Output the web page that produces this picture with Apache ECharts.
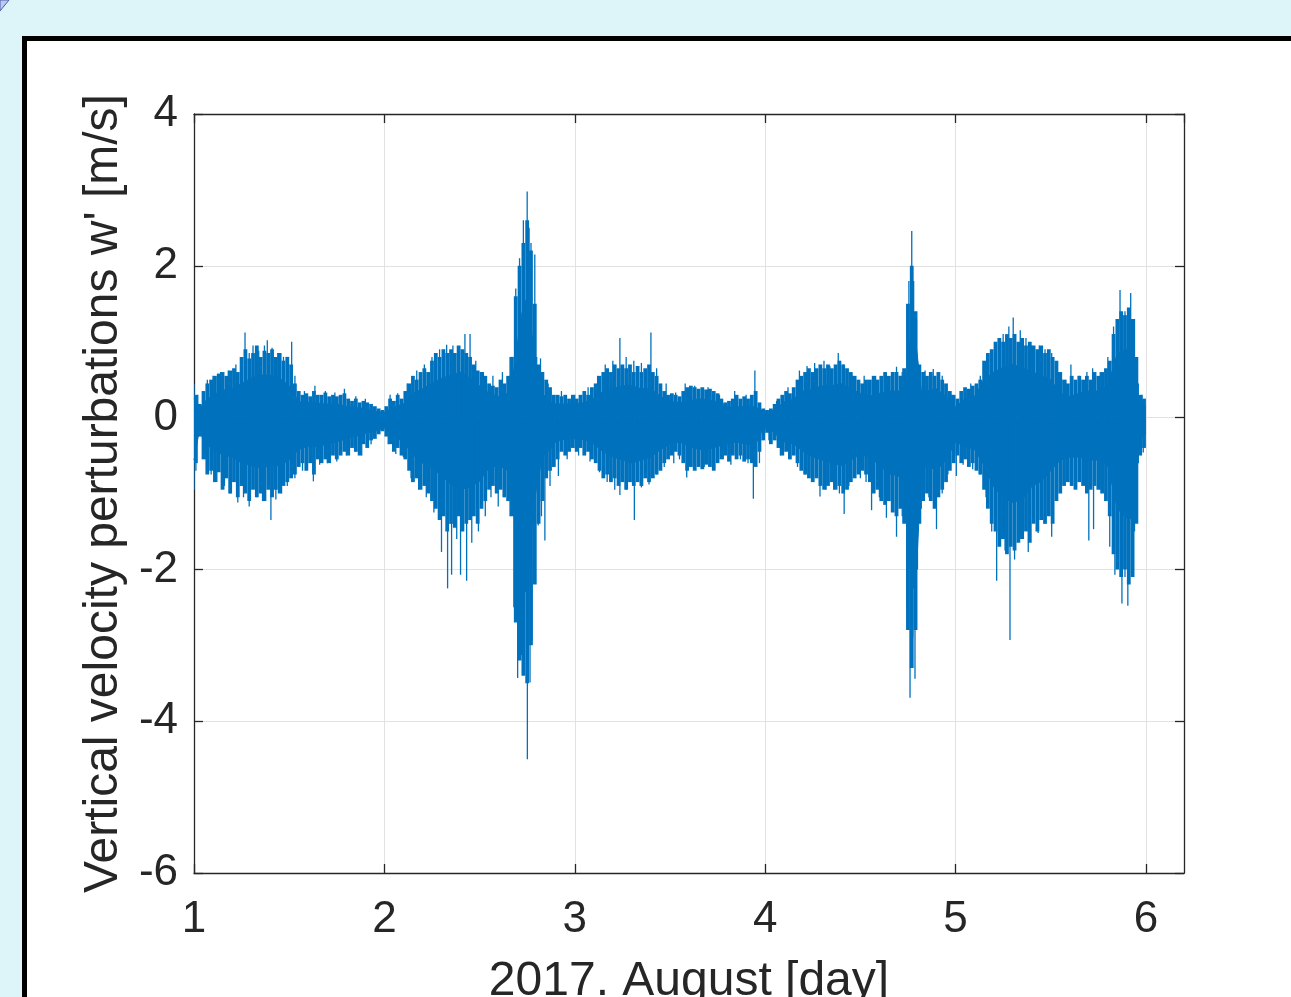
<!DOCTYPE html>
<html>
<head>
<meta charset="utf-8">
<script src="https://cdn.jsdelivr.net/npm/echarts@6/dist/echarts.min.js"></script>
<style>
html, body { margin: 0; padding: 0; width: 1291px; height: 997px; overflow: hidden; background: #ddf4f9; }
#frame { position: absolute; left: 22px; top: 36px; width: 1400px; height: 1100px; background: #fff; border: 5px solid #000; }
#chart { position: absolute; left: 0; top: 0; width: 1291px; height: 997px; }
</style>
</head>
<body>
<div id="frame"></div>
<div id="chart"></div>
<script>
// solid core of the signal (upper / lower)
var dayPts = [1.00, 1.03, 1.05, 1.10, 1.15, 1.20, 1.25, 1.30, 1.35, 1.40, 1.45, 1.50, 1.55, 1.60, 1.65, 1.70, 1.75, 1.80, 1.85, 1.90, 1.95, 2.00,
  2.05, 2.10, 2.15, 2.20, 2.25, 2.30, 2.35, 2.40, 2.45, 2.50, 2.55, 2.60, 2.65, 2.68, 2.70, 2.72, 2.74, 2.76, 2.78, 2.80, 2.83, 2.87, 2.90, 2.95, 3.00,
  3.05, 3.10, 3.15, 3.20, 3.25, 3.30, 3.35, 3.40, 3.45, 3.50, 3.55, 3.60, 3.65, 3.70, 3.75, 3.80, 3.85, 3.90, 3.95, 3.99,
  4.02, 4.05, 4.10, 4.15, 4.20, 4.25, 4.30, 4.35, 4.40, 4.45, 4.50, 4.55, 4.60, 4.65, 4.70, 4.74, 4.76, 4.78, 4.80, 4.82, 4.85, 4.90, 4.95, 5.00,
  5.05, 5.10, 5.15, 5.20, 5.25, 5.30, 5.35, 5.40, 5.45, 5.50, 5.55, 5.60, 5.65, 5.70, 5.75, 5.80, 5.85, 5.90, 5.93, 5.95, 5.97, 6.00];
var coreUpper = [0.25, 0.1, 0.2, 0.3, 0.36, 0.38, 0.45, 0.52, 0.56, 0.56, 0.52, 0.42, 0.21, 0.2, 0.19, 0.18, 0.18, 0.15, 0.13, 0.12, 0.08, 0.07,
  0.14, 0.18, 0.32, 0.38, 0.45, 0.52, 0.56, 0.6, 0.52, 0.42, 0.32, 0.28, 0.32, 0.63, 1.0, 1.35, 1.55, 1.4, 1.0, 0.5, 0.32, 0.21, 0.18, 0.18, 0.18,
  0.2, 0.25, 0.35, 0.38, 0.42, 0.42, 0.38, 0.38, 0.28, 0.21, 0.2, 0.22, 0.25, 0.23, 0.21, 0.14, 0.14, 0.15, 0.14, 0.08,
  0.07, 0.1, 0.21, 0.25, 0.35, 0.38, 0.42, 0.42, 0.45, 0.38, 0.32, 0.28, 0.32, 0.35, 0.35, 0.42, 1.0, 1.25, 0.8, 0.35, 0.35, 0.38, 0.28, 0.14,
  0.25, 0.28, 0.5, 0.6, 0.66, 0.7, 0.66, 0.6, 0.56, 0.5, 0.32, 0.28, 0.32, 0.35, 0.35, 0.42, 0.85, 0.9, 0.85, 0.35, 0.18, 0.14];
var coreLower = [-0.56, -0.14, -0.32, -0.42, -0.49, -0.52, -0.6, -0.63, -0.66, -0.64, -0.63, -0.56, -0.42, -0.38, -0.38, -0.35, -0.32, -0.28, -0.25, -0.21, -0.18, -0.14,
  -0.25, -0.32, -0.49, -0.6, -0.66, -0.77, -0.88, -0.95, -0.91, -0.84, -0.66, -0.63, -0.7, -1.26, -1.7, -2.1, -2.3, -1.95, -1.26, -0.91, -0.52, -0.42, -0.32, -0.28, -0.28,
  -0.29, -0.35, -0.45, -0.52, -0.56, -0.6, -0.56, -0.52, -0.42, -0.35, -0.32, -0.38, -0.42, -0.42, -0.38, -0.35, -0.32, -0.35, -0.35, -0.14,
  -0.14, -0.21, -0.32, -0.35, -0.45, -0.52, -0.56, -0.6, -0.63, -0.56, -0.49, -0.52, -0.63, -0.74, -0.77, -0.91, -1.95, -2.25, -1.75, -0.7, -0.63, -0.7, -0.56, -0.32,
  -0.38, -0.42, -0.63, -0.91, -1.05, -1.12, -1.08, -0.91, -0.84, -0.7, -0.56, -0.52, -0.52, -0.56, -0.56, -0.63, -1.2, -1.33, -1.33, -0.7, -0.28, -0.21];

// the hairy fringe: one high/low pair every 0.02 day
var hairDays = [1.01, 1.03, 1.05, 1.07, 1.09, 1.11, 1.13, 1.15, 1.17, 1.19, 1.21, 1.23, 1.25, 1.27, 1.29, 1.31, 1.33, 1.35, 1.37, 1.39, 1.41, 1.43, 1.45, 1.47, 1.49,
  1.51, 1.53, 1.55, 1.57, 1.59, 1.61, 1.63, 1.65, 1.67, 1.69, 1.71, 1.73, 1.75, 1.77, 1.79, 1.81, 1.83, 1.85, 1.87, 1.89, 1.91, 1.93, 1.95, 1.97, 1.99,
  2.01, 2.03, 2.05, 2.07, 2.09, 2.11, 2.13, 2.15, 2.17, 2.19, 2.21, 2.23, 2.25, 2.27, 2.29, 2.31, 2.33, 2.35, 2.37, 2.39, 2.41, 2.43, 2.45, 2.47, 2.49,
  2.51, 2.53, 2.55, 2.57, 2.59, 2.61, 2.63, 2.65, 2.67, 2.69, 2.71, 2.73, 2.75, 2.77, 2.79, 2.81, 2.83, 2.85, 2.87, 2.89, 2.91, 2.93, 2.95, 2.97, 2.99,
  3.01, 3.03, 3.05, 3.07, 3.09, 3.11, 3.13, 3.15, 3.17, 3.19, 3.21, 3.23, 3.25, 3.27, 3.29, 3.31, 3.33, 3.35, 3.37, 3.39, 3.41, 3.43, 3.45, 3.47, 3.49,
  3.51, 3.53, 3.55, 3.57, 3.59, 3.61, 3.63, 3.65, 3.67, 3.69, 3.71, 3.73, 3.75, 3.77, 3.79, 3.81, 3.83, 3.85, 3.87, 3.89, 3.91, 3.93, 3.95, 3.97, 3.99,
  4.01, 4.03, 4.05, 4.07, 4.09, 4.11, 4.13, 4.15, 4.17, 4.19, 4.21, 4.23, 4.25, 4.27, 4.29, 4.31, 4.33, 4.35, 4.37, 4.39, 4.41, 4.43, 4.45, 4.47, 4.49,
  4.51, 4.53, 4.55, 4.57, 4.59, 4.61, 4.63, 4.65, 4.67, 4.69, 4.71, 4.73, 4.75, 4.77, 4.79, 4.81, 4.83, 4.85, 4.87, 4.89, 4.91, 4.93, 4.95, 4.97, 4.99,
  5.01, 5.03, 5.05, 5.07, 5.09, 5.11, 5.13, 5.15, 5.17, 5.19, 5.21, 5.23, 5.25, 5.27, 5.29, 5.31, 5.33, 5.35, 5.37, 5.39, 5.41, 5.43, 5.45, 5.47, 5.49,
  5.51, 5.53, 5.55, 5.57, 5.59, 5.61, 5.63, 5.65, 5.67, 5.69, 5.71, 5.73, 5.75, 5.77, 5.79, 5.81, 5.83, 5.85, 5.87, 5.89, 5.91, 5.93, 5.95, 5.97, 5.99];
var hairTop = [0.3, 0.18, 0.35, 0.45, 0.5, 0.55, 0.58, 0.6, 0.55, 0.62, 0.65, 0.6, 0.8, 0.9, 0.78, 0.85, 0.95, 0.8, 0.88, 0.85, 0.9, 0.8, 0.85, 0.75, 0.8,
  0.7, 0.45, 0.35, 0.3, 0.32, 0.28, 0.35, 0.3, 0.3, 0.33, 0.28, 0.3, 0.28, 0.3, 0.32, 0.25, 0.22, 0.25, 0.2, 0.22, 0.2, 0.18, 0.15, 0.12, 0.1,
  0.15, 0.25, 0.22, 0.3, 0.25, 0.35, 0.45, 0.55, 0.5, 0.6, 0.65, 0.6, 0.75, 0.85, 0.8, 0.9, 0.85, 0.9, 0.85, 0.95, 0.9, 0.85, 0.8, 0.7, 0.62,
  0.6, 0.55, 0.45, 0.42, 0.4, 0.5, 0.45, 0.55, 0.8, 1.6, 2.0, 2.3, 2.6, 2.2, 1.5, 0.7, 0.6, 0.5, 0.4, 0.3, 0.3, 0.28, 0.3, 0.25, 0.3,
  0.25, 0.3, 0.35, 0.3, 0.4, 0.45, 0.55, 0.6, 0.65, 0.6, 0.7, 0.65, 0.7, 0.65, 0.7, 0.6, 0.68, 0.6, 0.65, 0.7, 0.6, 0.55, 0.45, 0.35, 0.3,
  0.32, 0.3, 0.28, 0.35, 0.4, 0.42, 0.4, 0.38, 0.4, 0.37, 0.38, 0.35, 0.32, 0.25, 0.2, 0.22, 0.25, 0.3, 0.25, 0.28, 0.25, 0.3, 0.35, 0.2, 0.12,
  0.1, 0.12, 0.18, 0.25, 0.3, 0.35, 0.32, 0.4, 0.5, 0.55, 0.6, 0.65, 0.6, 0.65, 0.7, 0.65, 0.7, 0.65, 0.7, 0.75, 0.7, 0.65, 0.6, 0.55, 0.5,
  0.45, 0.5, 0.5, 0.55, 0.5, 0.55, 0.6, 0.55, 0.6, 0.6, 0.55, 0.65, 1.5, 2.0, 1.4, 0.7, 0.6, 0.55, 0.6, 0.55, 0.6, 0.5, 0.45, 0.35, 0.3,
  0.25, 0.35, 0.4, 0.38, 0.42, 0.45, 0.5, 0.75, 0.85, 0.9, 1.0, 1.05, 1.0, 1.1, 1.05, 1.1, 1.0, 1.05, 0.95, 1.0, 0.95, 0.9, 0.95, 0.85, 0.9,
  0.8, 0.75, 0.6, 0.5, 0.45, 0.55, 0.5, 0.55, 0.5, 0.55, 0.5, 0.6, 0.55, 0.6, 0.65, 0.75, 1.1, 1.3, 1.4, 1.35, 1.45, 1.3, 0.8, 0.3, 0.25];
var hairBottom = [-0.6, -0.25, -0.55, -0.75, -0.7, -0.85, -0.72, -0.95, -0.8, -1.0, -0.85, -1.05, -0.9, -1.0, -1.1, -0.95, -1.05, -1.0, -1.1, -0.95, -1.05, -0.95, -1.0, -0.9, -0.85,
  -0.8, -0.75, -0.65, -0.6, -0.7, -0.6, -0.75, -0.55, -0.6, -0.55, -0.6, -0.5, -0.55, -0.5, -0.45, -0.5, -0.4, -0.45, -0.5, -0.35, -0.4, -0.3, -0.28, -0.22, -0.18,
  -0.25, -0.35, -0.45, -0.4, -0.5, -0.55, -0.7, -0.85, -0.8, -0.95, -0.9, -1.0, -1.1, -1.2, -1.35, -1.3, -1.5, -1.4, -1.45, -1.3, -1.5, -1.4, -1.35, -1.3, -1.4,
  -1.2, -1.1, -0.95, -0.9, -1.0, -0.95, -1.05, -1.1, -1.3, -2.7, -3.2, -3.4, -3.5, -3.0, -2.2, -1.4, -1.1, -0.8, -0.7, -0.65, -0.55, -0.45, -0.5, -0.45, -0.4,
  -0.45, -0.4, -0.5, -0.45, -0.55, -0.6, -0.7, -0.8, -0.75, -0.85, -0.8, -0.9, -0.85, -0.95, -0.85, -0.9, -0.85, -0.9, -0.8, -0.85, -0.8, -0.75, -0.7, -0.6, -0.55,
  -0.5, -0.45, -0.5, -0.6, -0.7, -0.65, -0.7, -0.65, -0.68, -0.62, -0.65, -0.7, -0.6, -0.55, -0.5, -0.58, -0.5, -0.55, -0.5, -0.58, -0.55, -0.6, -0.65, -0.45, -0.3,
  -0.2, -0.35, -0.3, -0.4, -0.5, -0.45, -0.55, -0.5, -0.6, -0.7, -0.75, -0.8, -0.85, -0.8, -0.9, -0.95, -0.9, -0.85, -0.95, -0.9, -1.0, -0.95, -0.85, -0.8, -0.75,
  -0.7, -0.75, -0.85, -1.0, -0.95, -1.1, -1.15, -1.1, -1.25, -1.3, -1.2, -1.4, -2.8, -3.3, -2.8, -1.4, -1.1, -1.0, -1.1, -1.2, -1.05, -0.95, -0.85, -0.7, -0.6,
  -0.5, -0.6, -0.55, -0.65, -0.6, -0.7, -0.75, -0.95, -1.2, -1.4, -1.5, -1.7, -1.6, -1.8, -1.7, -1.75, -1.65, -1.6, -1.5, -1.65, -1.4, -1.5, -1.35, -1.4, -1.3,
  -1.4, -1.1, -1.0, -0.9, -0.85, -0.9, -0.95, -0.85, -0.9, -1.0, -0.95, -0.9, -0.95, -1.0, -1.1, -1.3, -1.8, -2.0, -2.1, -2.0, -2.2, -2.1, -1.4, -0.5, -0.4];

// individual spikes poking out of the fringe (day, w')
var spikeDays = [1.00, 1.02, 1.07, 1.10, 1.14, 1.18, 1.22, 1.268, 1.29, 1.31, 1.34, 1.37, 1.385, 1.41, 1.44, 1.47, 1.513, 1.53, 1.58, 1.635, 1.69, 1.74, 1.79, 1.85, 1.90,
  2.03, 2.07, 2.12, 2.17, 2.21, 2.25, 2.29, 2.327, 2.36, 2.39, 2.423, 2.45, 2.48, 2.52, 2.57, 2.62, 2.66, 2.69, 2.71, 2.73, 2.75, 2.76, 2.77, 2.79, 2.80, 2.82, 2.86, 2.93,
  3.00, 3.07, 3.12, 3.16, 3.20, 3.237, 3.27, 3.31, 3.35, 3.40, 3.43, 3.48, 3.53, 3.58, 3.63, 3.70, 3.76, 3.84, 3.90, 3.946,
  4.06, 4.12, 4.18, 4.22, 4.26, 4.309, 4.34, 4.384, 4.41, 4.46, 4.52, 4.58, 4.63, 4.69, 4.72, 4.755, 4.77, 4.78, 4.795, 4.84, 4.883, 4.93, 4.98,
  5.03, 5.08, 5.13, 5.17, 5.21, 5.25, 5.28, 5.303, 5.34, 5.37, 5.40, 5.44, 5.47, 5.505, 5.54, 5.58, 5.606, 5.65, 5.69, 5.72, 5.76, 5.80, 5.83, 5.864, 5.89, 5.92, 5.94, 5.96, 5.98,
  1.00, 1.01, 1.06, 1.09, 1.12, 1.16, 1.19, 1.23, 1.26, 1.29, 1.33, 1.36, 1.404, 1.43, 1.46, 1.49, 1.53, 1.57, 1.627, 1.66, 1.70, 1.75, 1.80, 1.85, 1.881, 1.93,
  2.02, 2.06, 2.10, 2.14, 2.18, 2.22, 2.26, 2.30, 2.332, 2.353, 2.38, 2.40, 2.432, 2.459, 2.494, 2.53, 2.56, 2.598, 2.63, 2.66, 2.68, 2.70, 2.72, 2.735, 2.751, 2.765, 2.775, 2.79,
  2.808, 2.825, 2.843, 2.87, 2.914, 2.96, 3.02, 3.08, 3.13, 3.17, 3.21, 3.237, 3.27, 3.313, 3.35, 3.39, 3.43, 3.47, 3.52, 3.55, 3.588, 3.63, 3.68, 3.73, 3.78, 3.82, 3.87, 3.91, 3.938, 3.97,
  4.02, 4.08, 4.13, 4.17, 4.21, 4.25, 4.288, 4.32, 4.36, 4.39, 4.415, 4.44, 4.50, 4.53, 4.559, 4.60, 4.637, 4.67, 4.69, 4.72, 4.745, 4.761, 4.775, 4.787, 4.80, 4.82, 4.86, 4.90, 4.93, 4.96,
  5.004, 5.04, 5.09, 5.13, 5.16, 5.19, 5.216, 5.24, 5.26, 5.286, 5.31, 5.34, 5.382, 5.41, 5.434, 5.47, 5.505, 5.53, 5.57, 5.61, 5.65, 5.70, 5.725, 5.76, 5.79, 5.81, 5.837, 5.855, 5.874, 5.89, 5.905, 5.925, 5.94, 5.96, 5.986];
var spikeVals = [0.44, 0.3, 0.5, 0.55, 0.6, 0.62, 0.7, 1.12, 0.85, 0.95, 0.88, 0.95, 1.02, 0.92, 0.85, 0.8, 1.0, 0.55, 0.35, 0.42, 0.35, 0.33, 0.38, 0.28, 0.25,
  0.3, 0.32, 0.45, 0.62, 0.7, 0.8, 0.9, 0.96, 0.95, 0.88, 1.1, 1.1, 0.75, 0.6, 0.55, 0.6, 0.8, 1.7, 2.1, 2.6, 2.98, 2.5, 2.3, 2.15, 0.8, 0.78, 0.45, 0.35,
  0.3, 0.4, 0.55, 0.7, 0.75, 1.05, 0.8, 0.75, 0.72, 1.12, 0.65, 0.45, 0.33, 0.45, 0.42, 0.4, 0.3, 0.35, 0.3, 0.62,
  0.22, 0.4, 0.62, 0.68, 0.72, 0.75, 0.68, 0.85, 0.7, 0.55, 0.55, 0.55, 0.6, 0.67, 0.6, 1.8, 2.46, 1.8, 1.3, 0.62, 0.64, 0.55, 0.3,
  0.35, 0.45, 0.55, 0.85, 0.95, 1.1, 1.2, 1.32, 1.15, 1.05, 0.95, 0.95, 0.9, 0.85, 0.6, 0.5, 0.7, 0.55, 0.6, 0.65, 0.6, 0.8, 1.2, 1.68, 1.4, 1.64, 1.3, 0.45, 0.3,
  -0.95, -0.7, -0.55, -0.75, -0.85, -0.9, -1.0, -1.12, -1.05, -1.17, -1.05, -1.1, -1.35, -1.08, -1.0, -0.9, -0.8, -0.7, -0.84, -0.62, -0.6, -0.58, -0.5, -0.45, -0.5, -0.35,
  -0.35, -0.48, -0.52, -0.8, -0.95, -1.05, -1.25, -1.77, -2.25, -2.07, -1.6, -2.07, -2.15, -1.65, -1.5, -1.3, -1.05, -1.17, -1.05, -1.3, -2.5, -3.43, -3.13, -3.3, -4.5, -3.49, -2.93, -1.9,
  -1.42, -1.3, -1.62, -0.9, -0.77, -0.55, -0.5, -0.58, -0.72, -0.85, -0.95, -1.02, -0.95, -1.35, -0.92, -0.88, -0.75, -0.65, -0.6, -0.55, -0.79, -0.68, -0.65, -0.68, -0.55, -0.62, -0.55, -0.6, -1.07, -0.6,
  -0.3, -0.5, -0.55, -0.65, -0.75, -0.85, -1.04, -0.95, -0.95, -1.0, -1.27, -0.9, -0.8, -0.85, -1.22, -1.05, -1.32, -1.2, -1.57, -1.3, -2.5, -3.69, -2.9, -3.44, -2.0, -1.2, -1.05, -1.47, -1.0, -0.75,
  -0.77, -0.62, -0.68, -0.75, -1.05, -1.5, -2.15, -1.6, -1.75, -2.93, -1.87, -1.6, -1.77, -1.35, -1.52, -1.3, -1.57, -1.0, -0.85, -0.9, -0.85, -1.62, -1.47, -0.95, -1.0, -1.7, -2.07, -1.95, -2.45, -2.1, -2.48, -2.0, -1.5, -0.6, -0.46];

var yTicks = [-6, -4, -2, 0, 2, 4];
var xTicks = [1, 2, 3, 4, 5, 6];

var blue = '#0072BD';
var ink = '#262626';
var font = '"Liberation Sans", Arial, Helvetica, sans-serif';

var upperData = dayPts.map(function (d, i) { return [d, coreUpper[i]]; });
var lowerData = dayPts.map(function (d, i) { return [d, coreLower[i]]; });
var hairData = hairDays.map(function (d, i) { return [d, hairTop[i], hairBottom[i]]; });
var spikeData = spikeDays.map(function (d, i) { return [d, spikeVals[i]]; });

var chart = echarts.init(document.getElementById('chart'), null, { renderer: 'canvas' });

var axisLineStyle = { color: ink, width: 1.3 };

// vertical stroke between two values at one day
function vLine(api, x, a, b, w) {
    var p0 = api.coord([x, a]);
    var p1 = api.coord([x, b]);
    return {
        type: 'line',
        shape: { x1: p0[0], y1: p0[1], x2: p1[0], y2: p1[1] },
        style: { stroke: blue, lineWidth: w }
    };
}

var option = {
    backgroundColor: 'transparent',
    animation: false,
    graphic: [{
        type: 'polygon',
        shape: { points: [[0, 0], [9, 0], [0, 11]] },
        style: { fill: '#bccaf0', stroke: '#4b5ca6', lineWidth: 1 }
    }],
    grid: { left: 194, top: 114, right: 107, bottom: 124, outerBoundsMode: 'none', containLabel: false },
    xAxis: [
        {
            type: 'value',
            min: 1,
            max: 6.2,
            interval: 1,
            position: 'bottom',
            axisLine: { onZero: false, lineStyle: axisLineStyle },
            axisTick: { inside: true, length: 9, lineStyle: axisLineStyle },
            axisLabel: {
                fontSize: 44, color: ink, fontFamily: font, margin: 25,
                showMaxLabel: false,
                formatter: function (v) { return xTicks.indexOf(v) >= 0 ? String(v) : ''; }
            },
            splitLine: { show: true, lineStyle: { color: '#e2e2e2', width: 1 } },
            name: '2017. August [day]',
            nameLocation: 'middle',
            nameGap: 85,
            nameTextStyle: { fontSize: 48, color: ink, fontFamily: font }
        },
        {
            type: 'value',
            min: 1,
            max: 6.2,
            interval: 1,
            position: 'top',
            axisLine: { show: true, onZero: false, lineStyle: axisLineStyle },
            axisTick: { show: true, inside: true, length: 9, lineStyle: axisLineStyle },
            axisLabel: { show: false },
            splitLine: { show: false }
        }
    ],
    yAxis: [
        {
            type: 'value',
            min: -6,
            max: 4,
            interval: 2,
            position: 'left',
            axisLine: { show: true, onZero: false, lineStyle: axisLineStyle },
            axisTick: { show: true, inside: true, length: 9, lineStyle: axisLineStyle },
            axisLabel: {
                fontSize: 44, color: ink, fontFamily: font, margin: 16,
                formatter: function (v) { return yTicks.indexOf(v) >= 0 ? String(v) : ''; }
            },
            splitLine: { show: true, lineStyle: { color: '#e2e2e2', width: 1 } },
            name: "Vertical velocity perturbations w' [m/s]",
            nameLocation: 'middle',
            nameGap: 64,
            nameRotate: 90,
            nameTextStyle: { fontSize: 48, color: ink, fontFamily: font }
        },
        {
            type: 'value',
            min: -6,
            max: 4,
            interval: 2,
            position: 'right',
            axisLine: { show: true, onZero: false, lineStyle: axisLineStyle },
            axisTick: { show: true, inside: true, length: 9, lineStyle: axisLineStyle },
            axisLabel: { show: false },
            splitLine: { show: false }
        }
    ],
    series: [
        {
            name: 'core+',
            type: 'line',
            data: upperData,
            showSymbol: false,
            lineStyle: { color: blue, width: 1 },
            areaStyle: { color: blue, opacity: 1, origin: 0 },
            z: 3
        },
        {
            name: 'core-',
            type: 'line',
            data: lowerData,
            showSymbol: false,
            lineStyle: { color: blue, width: 1 },
            areaStyle: { color: blue, opacity: 1, origin: 0 },
            z: 3
        },
        {
            name: 'fringe',
            type: 'custom',
            data: hairData,
            clip: true,
            z: 4,
            renderItem: function (params, api) {
                return vLine(api, api.value(0), api.value(2), api.value(1), 3.8);
            }
        },
        {
            name: 'spikes',
            type: 'custom',
            data: spikeData,
            clip: true,
            z: 4,
            renderItem: function (params, api) {
                return vLine(api, api.value(0), 0, api.value(1), 1.3);
            }
        }
    ]
};

chart.setOption(option);
</script>
</body>
</html>
